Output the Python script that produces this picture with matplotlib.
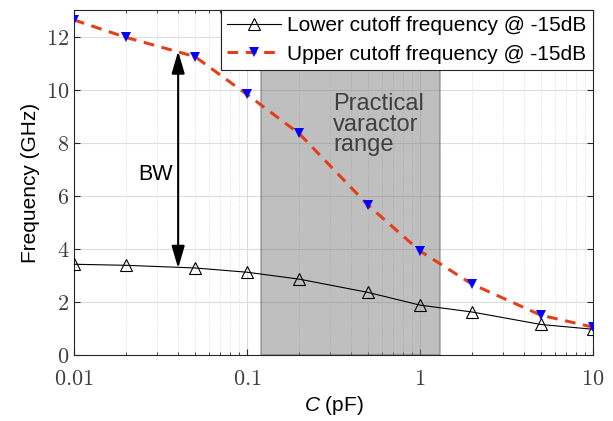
import numpy as np
import matplotlib
matplotlib.use("Agg")
import matplotlib.pyplot as plt
from matplotlib.patches import Rectangle
from matplotlib.ticker import FixedLocator, LogLocator, NullFormatter

plt.rcParams['font.family'] = ['Liberation Sans', 'DejaVu Sans']
plt.rcParams['mathtext.fontset'] = 'custom'
plt.rcParams['mathtext.it'] = 'Liberation Sans:italic'
plt.rcParams['mathtext.rm'] = 'Liberation Sans'

# capacitance values (pF)
cap = [0.01, 0.02, 0.05, 0.1, 0.2, 0.5, 1, 2, 5, 10]
# cutoff frequencies (GHz)
f_low = [3.42, 3.38, 3.28, 3.12, 2.86, 2.36, 1.88, 1.62, 1.15, 0.97]
f_up = [12.63, 11.97, 11.25, 9.82, 8.35, 5.65, 3.92, 2.67, 1.50, 1.05]

varactor_range = [0.12, 1.3]
bw_at = 0.04
bw_span = [3.27, 11.45]

xticks = [0.01, 0.1, 1, 10]
xticklabels = ['0.01', '0.1', '1', '10']
yticks = [0, 2, 4, 6, 8, 10, 12]

fig = plt.figure(figsize=(6.13, 4.21), dpi=100)
ax = fig.add_axes([0.1207, 0.1568, 0.8467, 0.8192])
ax.set_xscale('log')
ax.set_xlim(0.01, 10)
ax.set_ylim(0, 13)

# shaded practical range
ax.add_patch(Rectangle((varactor_range[0], 0), varactor_range[1] - varactor_range[0], 13,
                       facecolor='#808080', alpha=0.5, edgecolor='#606060', lw=1.2, zorder=1))

ax.plot(cap, f_low, color='black', lw=0.8, marker='^', ms=8, mfc='none', mec='black',
        mew=0.8, label='Lower cutoff frequency @ -15dB', zorder=3)
ax.plot(cap, f_up, color='#E2401A', lw=2.2, ls=(0, (3.5, 2.5)), marker='v', ms=7,
        mfc='blue', mec='blue', mew=0, label='Upper cutoff frequency @ -15dB', zorder=4)

ax.annotate('', xy=(bw_at, bw_span[1]), xytext=(bw_at, bw_span[0]),
            arrowprops=dict(arrowstyle='<|-|>,head_length=0.75,head_width=0.22', color='black',
                            lw=1.5, mutation_scale=18, shrinkA=0, shrinkB=0), zorder=5)
ax.text(0.0294, 6.8, 'BW', fontsize=15.5, ha='center', va='center')
ax.text(0.314, 8.68, 'Practical\nvaractor\nrange', fontsize=17, color='#404040',
        ha='left', va='center', linespacing=0.92)

ax.xaxis.set_major_locator(FixedLocator(xticks))
ax.set_xticklabels([r'$%s$' % t for t in xticklabels], math_fontfamily='cm')
ax.xaxis.set_minor_locator(LogLocator(base=10, subs=np.arange(2, 10)))
ax.xaxis.set_minor_formatter(NullFormatter())
ax.set_yticks(yticks)
ax.set_yticklabels([r'$%d$' % t for t in yticks], math_fontfamily='cm')

ax.tick_params(which='both', direction='in', top=True, right=True, colors='#262626',
               labelcolor='#404040', labelsize=16)
ax.tick_params(which='major', length=4)
ax.tick_params(which='minor', length=2.5)
ax.tick_params(axis='x', which='major', pad=10)
ax.grid(True, which='major', color='#DCDCDC', lw=0.8)
ax.grid(True, which='minor', axis='x', color='#D0D0D0', lw=0.6, ls=':')
ax.set_axisbelow(True)
for s in ax.spines.values():
    s.set_color('#262626')
    s.set_linewidth(0.8)

ax.set_xlabel(r'$C$ (pF)', fontsize=15, labelpad=3)
ax.set_ylabel('Frequency (GHz)', fontsize=15)

leg = ax.legend(loc='upper right', fontsize=15, frameon=True, fancybox=False,
                edgecolor='#262626', framealpha=1, borderaxespad=0, handlelength=2.6,
                borderpad=0.3, labelspacing=0.45, handletextpad=0.3)
leg.get_frame().set_linewidth(0.8)
leg.set_zorder(10)

fig.savefig('out.png', dpi=100)
